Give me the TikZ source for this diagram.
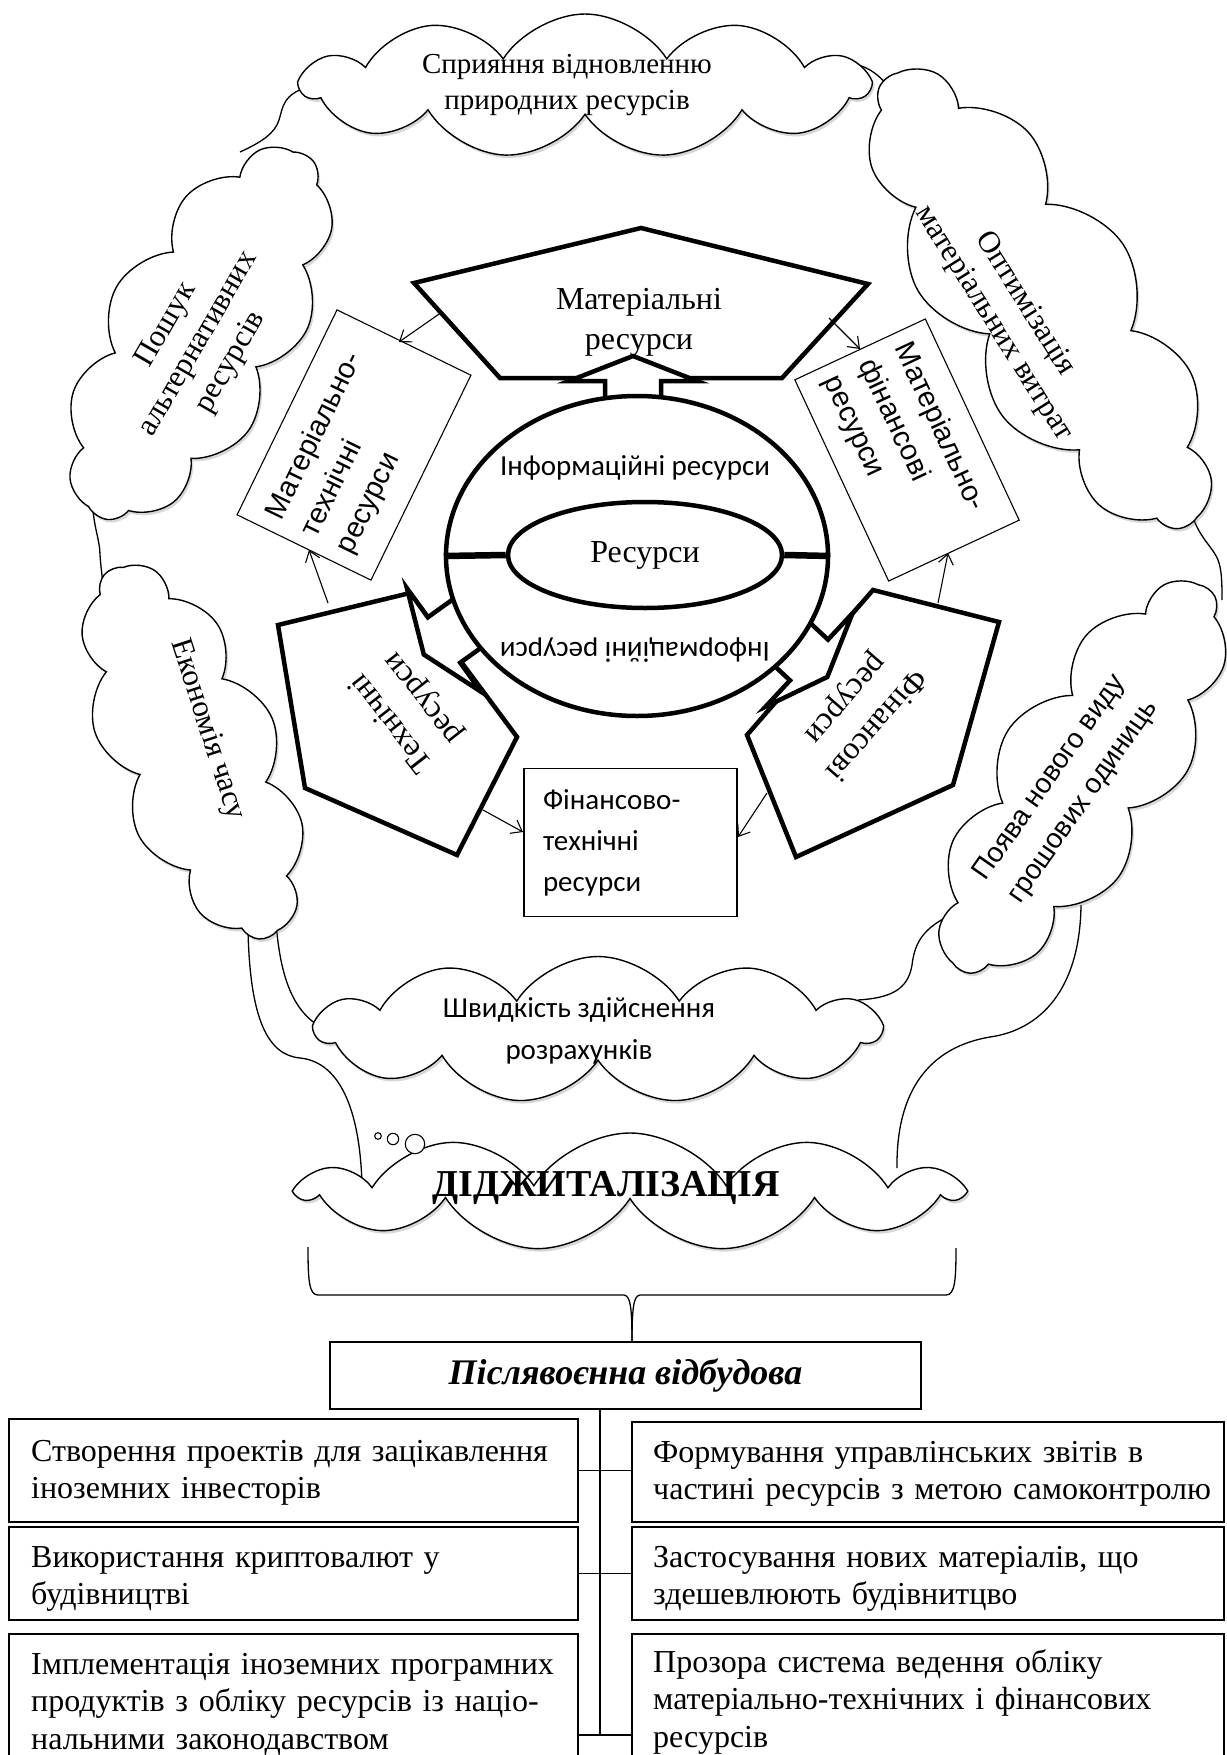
\documentclass[tikz,border=0pt]{standalone}
\usepackage{fontspec}
\setmainfont{Liberation Serif}
\newfontfamily\calibf{Carlito}
\newfontfamily\arialf{Liberation Sans}
\usetikzlibrary{shapes.symbols,shapes.geometric,shadows,arrows.meta}
\begin{document}
\begin{tikzpicture}[x=1pt,y=-1pt,
  cloudbox/.style={cloud, cloud puffs=11, cloud puff arc=115, cloud ignores aspect,
     draw, fill=white, line width=1.4pt, inner sep=0pt,
     drop shadow={opacity=0.3, shadow xshift=2pt, shadow yshift=-3pt}},
  conn/.style={line width=1.3pt},
  heavy/.style={line width=4.5pt, line join=miter, fill=white},
  tarrow/.style={line width=1.1pt, -{Straight Barb[length=10pt,width=15pt]}},
  plainbox/.style={draw, line width=1.1pt, fill=white, inner sep=0pt},
  serifA/.style={font=\fontsize{31}{37}\selectfont, align=center, inner sep=0pt},
  serifB/.style={font=\fontsize{32}{40}\selectfont, align=center, inner sep=0pt},
  listtxt/.style={font=\fontsize{32}{37.5}\selectfont, anchor=base west, inner sep=0pt, text width=575pt, align=left},
]
\useasboundingbox (0,0) rectangle (1226,1755);
\fill[white] (0,0) rectangle (1226,1755);

% ---------- connectors between clouds ----------
\coordinate (a1) at (312,86);   \coordinate (a2) at (240,152);
\coordinate (b1) at (845,63);   \coordinate (b2) at (897,98);
\coordinate (c1) at (92,500);   \coordinate (c2) at (104,598);
\coordinate (d1) at (1190,505); \coordinate (d2) at (1222,600);
\coordinate (e1) at (275,905);  \coordinate (e2) at (332,1032);
\coordinate (f1) at (248,930);  \coordinate (f2) at (362,1185);
\coordinate (g1) at (962,910);  \coordinate (g2) at (858,1000);
\coordinate (h1) at (1081,905); \coordinate (h2) at (897,1168);
\draw[conn] (a1) .. controls (282,93) and (283,108) .. (279,120) .. controls (275,133) and (262,142) .. (a2);
\draw[conn] (b1) .. controls (868,64) and (882,76) .. (b2);
\draw[conn] (c1) .. controls (94,530) and (100,540) .. (100,555) .. controls (101,570) and (103,580) .. (c2);
\draw[conn] (d1) .. controls (1195,535) and (1212,545) .. (1218,560) .. controls (1222,570) and (1222,585) .. (d2);
\draw[conn] (e1) .. controls (278,975) and (292,1018) .. (e2);
\draw[conn] (f1) .. controls (250,1020) and (268,1055) .. (300,1058) .. controls (340,1062) and (360,1110) .. (f2);
\draw[conn] (g1) .. controls (925,925) and (915,940) .. (912,965) .. controls (908,990) and (890,998) .. (g2);
\draw[conn] (h1) .. controls (1080,990) and (1040,1030) .. (990,1037) .. controls (930,1047) and (896,1090) .. (h2);

% ---------- clouds ----------
\node[cloudbox, minimum width=566pt, minimum height=144pt] (cTop) at (585,86) {};
\node[cloudbox, rotate=60, minimum width=417pt, minimum height=190pt] (cLU) at (199,334) {};
\node[cloudbox, rotate=-56, minimum width=538pt, minimum height=200pt] (cRU) at (1040,300) {};
\node[cloudbox, rotate=-67, minimum width=400pt, minimum height=172pt] (cLL) at (193,752) {};
\node[cloudbox, rotate=57, minimum width=454pt, minimum height=176pt] (cRL) at (1082,778) {};
\node[cloudbox, minimum width=563pt, minimum height=147pt] (cSp) at (598,1030) {};
\node[cloudbox, minimum width=657pt, minimum height=118pt] (cDig) at (630,1192) {};

\node[serifA, font=\fontsize{29}{36}\selectfont] (tTop) at (567,85) {Сприяння відновленню\\природних ресурсів};
\node[serifA, rotate=60] (tLU) at (199,344) {Пошук\\альтернативних\\ресурсів};
\node[serifA, rotate=-58] (tRU) at (1009,314) {Оптимізація\\матеріальних витрат};
\node[serifA, rotate=-72] (tLL) at (207,730) {Економія часу};
\node[align=center, inner sep=0pt, rotate=55, font=\arialf\fontsize{28}{41}\selectfont] (tRL) at (1067,790) {Поява нового виду\\грошових одиниць};
\node[align=center, inner sep=0pt, font=\calibf\fontsize{29}{42}\selectfont] (tSp) at (579,1031) {Швидкість здійснення\\розрахунків};
\node[inner sep=0pt, font=\bfseries\fontsize{38}{44}\selectfont] (tDig) at (606,1188) {ДІДЖИТАЛІЗАЦІЯ};

% thought bubbles
\node[circle, draw, line width=1.1pt, fill=white, minimum size=6.6pt, inner sep=0pt] (o1) at (378,1136) {};
\node[circle, draw, line width=1.1pt, fill=white, minimum size=11.4pt, inner sep=0pt] (o2) at (393,1139) {};
\node[circle, draw, line width=1.1pt, fill=white, minimum size=19.4pt, inner sep=0pt] (o3) at (415,1144) {};

% ---------- brace and lower part ----------
\node[plainbox, minimum width=591pt, minimum height=67pt, font=\bfseries\itshape\fontsize{36}{40}\selectfont] (post) at (625.5,1375.5) {Післявоєнна відбудова};
\coordinate (brL) at (308,1247);
\coordinate (brR) at (956,1248);
\coordinate (brT) at (632,1342);
\draw[conn] (brL) .. controls (308,1280) and (309,1295) .. (318,1295) -- (624,1295) .. controls (630,1296) and (632,1305) .. (brT);
\draw[conn] (brR) .. controls (956,1280) and (955,1295) .. (946,1295) -- (640,1295) .. controls (634,1296) and (632,1305) .. (brT);

\node[plainbox, minimum width=569pt, minimum height=103pt] (L1) at (293.5,1470.5) {};
\node[plainbox, minimum width=569pt, minimum height=93pt] (L2) at (293.5,1573.5) {};
\node[plainbox, minimum width=569pt, minimum height=140pt] (L3) at (293.5,1704) {};
\node[plainbox, minimum width=592pt, minimum height=100pt] (R1) at (928,1472) {};
\node[plainbox, minimum width=592pt, minimum height=93pt] (R2) at (928,1573.5) {};
\node[plainbox, minimum width=592pt, minimum height=140pt] (R3) at (928,1704) {};

\coordinate (vb) at (600,1735);
\draw[conn] (post.south -| vb) -- (vb);
\draw[conn] (L1.east) -- (R1.west |- L1.east);
\draw[conn] (L2.east) -- (R2.west |- L2.east);
\draw[line width=2.5pt] (L3.east |- vb) -- (R3.west |- vb);

\node[listtxt] (tL1) at (31,1461) {Створення проектів для зацікавлення\\іноземних інвесторів};
\node[listtxt] (tL2) at (31,1567) {Використання криптовалют у\\будівництві};
\node[listtxt] (tL3) at (31,1674) {Імплементація іноземних програмних\\продуктів з обліку ресурсів із націо-\\нальними законодавством};
\node[listtxt] (tR1) at (653,1462) {Формування управлінських звітів в\\частині ресурсів з метою самоконтролю};
\node[listtxt] (tR2) at (653,1567) {Застосування нових матеріалів, що\\здешевлюють будівнитцво};
\node[listtxt] (tR3) at (653,1672) {Прозора система ведення обліку\\матеріально-технічних і фінансових\\ресурсів};

% ---------- rectangles around the core ----------
\node[plainbox, rotate=64, minimum width=228pt, minimum height=149pt, text width=200pt, align=left,
      font=\arialf\fontsize{29}{39}\selectfont] (rMT) at (354,445) {Матеріально-\\технічні\\ресурси};
\node[plainbox, rotate=-65, minimum width=222pt, minimum height=144pt, text width=196pt, align=left,
      font=\arialf\fontsize{29}{39}\selectfont] (rMF) at (907,450) {Матеріально-\\фінансові\\ресурси};
\node[plainbox, minimum width=213pt, minimum height=148pt, text width=175pt, align=left,
      font=\calibf\fontsize{29}{41}\selectfont] (rFT) at (630.5,842.5) {Фінансово-\\технічні\\ресурси};

% ---------- pentagons ----------
\draw[heavy] (641,228) -- (868,284) -- (782,378) -- (500,378) -- (414,283) -- cycle;
\draw[heavy] (410,593) -- (278,625) -- (305,788) -- (457,855) -- (517,737) -- cycle;
\draw[heavy] (873,590) -- (999,622) -- (953,785) -- (796,857) -- (747,735) -- cycle;

% block arrows
\draw[heavy] (633,356) -- (697,381) -- (661,381) -- (661,411) -- (605,411) -- (605,381) -- (569,381) -- cycle;
\draw[heavy] (423.8,654.5) -- (481.1,691.8) -- (460.2,662.7) -- (492.6,639.5) -- (460.2,594.1) -- (427.8,617.3) -- (406.9,588.2) -- cycle;
\draw[heavy] (827.3,677) -- (852.5,613.3) -- (828,639.6) -- (798.8,612.4) -- (760.8,653.2) -- (790,680.4) -- (765.5,706.7) -- cycle;

% core
\node[ellipse, draw, line width=4.5pt, fill=white, minimum width=382pt, minimum height=320pt, inner sep=0pt] (info) at (637,556) {};
\node[ellipse, draw, line width=4.5pt, fill=white, minimum width=274pt, minimum height=106pt, inner sep=0pt,
      font=\fontsize{32}{40}\selectfont] (res) at (645,555) {Ресурси};
\draw[line width=6.5pt] (info.west) -- (res.west);
\draw[line width=6.5pt] (res.east) -- (info.east);

\node[serifB] (pM) at (639,322) {Матеріальні\\ресурси};
\node[serifB, rotate=128] (pT) at (408,710) {Технічні\\ресурси};
\node[serifB, rotate=229] (pF) at (860,711) {Фінансові\\ресурси};
\node[inner sep=0pt, font=\calibf\fontsize{29}{36}\selectfont] (iTop) at (635,468) {Інформаційні ресурси};
\node[inner sep=0pt, rotate=180, font=\calibf\fontsize{29}{36}\selectfont] (iBot) at (635,650) {Інформаційні ресурси};

% thin arrows
\coordinate (s1) at (442,312); \coordinate (e1a) at (399,342);
\coordinate (s2) at (829,318); \coordinate (e2a) at (860,349);
\coordinate (s3) at (328,603); \coordinate (e3a) at (309,550);
\coordinate (s4) at (938,603); \coordinate (e4a) at (948,553);
\coordinate (s5) at (483,810); \coordinate (e5a) at (523,832);
\coordinate (s6) at (767,793); \coordinate (e6a) at (738,837);
\draw[tarrow] (s1) -- (e1a);
\draw[tarrow] (s2) -- (e2a);
\draw[tarrow] (s3) -- (e3a);
\draw[tarrow] (s4) -- (e4a);
\draw[tarrow] (s5) -- (e5a);
\draw[tarrow] (s6) -- (e6a);
\end{tikzpicture}
\end{document}
